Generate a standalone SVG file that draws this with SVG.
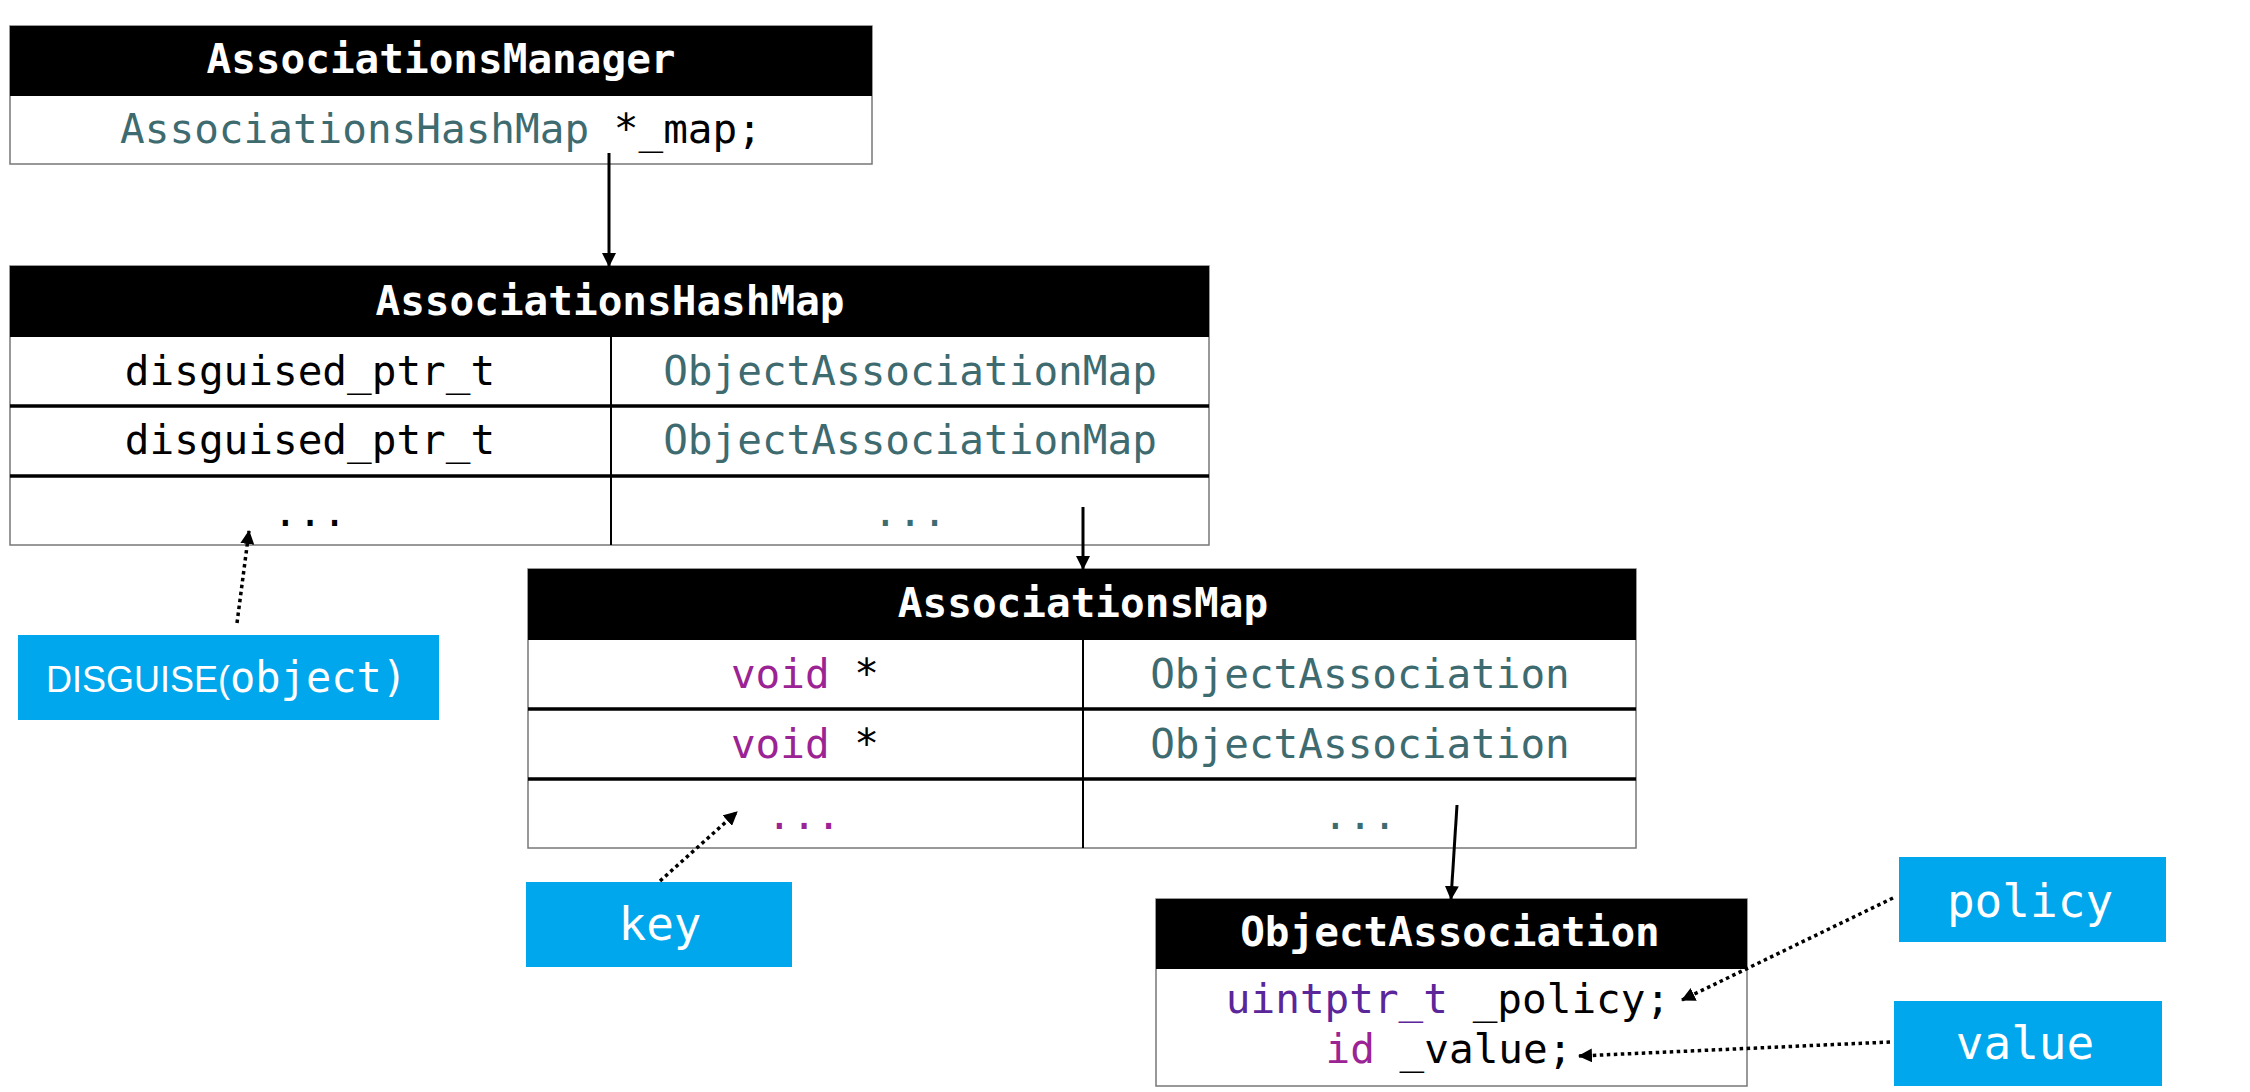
<svg xmlns="http://www.w3.org/2000/svg" width="2250" height="1092" viewBox="0 0 2250 1092">
<defs>
<style>
.frame{fill:#fff;stroke:#777;stroke-width:1.5}
.hdr{fill:#000}
.row{stroke:#000;stroke-width:3.5}
.div{stroke:#000;stroke-width:2}
.mono{font-family:"DejaVu Sans Mono","Liberation Mono",monospace;font-size:41px}
.ht{font-family:"DejaVu Sans Mono","Liberation Mono",monospace;font-size:41px;font-weight:bold;fill:#fff;text-anchor:middle}
.c{text-anchor:middle}
.blk{fill:#000}
.teal{fill:#3E6B70}
.mag{fill:#9B2393}
.pur{fill:#5B2699}
.blue{fill:#00A7EC}
.bt{font-family:"DejaVu Sans Mono","Liberation Mono",monospace;font-size:46px;fill:#fff;text-anchor:middle}
.solid{stroke:#000;stroke-width:3;fill:none}
.dot{stroke:#000;stroke-width:3.5;fill:none;stroke-dasharray:3.5 3.5}
</style>
<marker id="ah" viewBox="0 0 14 14" refX="13" refY="7" markerWidth="14" markerHeight="14" markerUnits="userSpaceOnUse" orient="auto">
<path d="M0,0 L14,7 L0,14 z" fill="#000"/>
</marker>
</defs>
<rect width="2250" height="1092" fill="#fff"/>

<g id="AssociationsManager">
<rect class="frame" x="10" y="26" width="862" height="138"/>
<rect class="hdr" x="10" y="26" width="862" height="70"/>
<text class="ht" x="441" y="73">AssociationsManager</text>
<text class="mono c" x="441" y="143"><tspan class="teal">AssociationsHashMap</tspan><tspan class="blk"> *_map;</tspan></text>
</g>

<g id="AssociationsHashMap">
<rect class="frame" x="10" y="266" width="1199" height="279"/>
<rect class="hdr" x="10" y="266" width="1199" height="71"/>
<line class="row" x1="10" y1="406" x2="1209" y2="406"/>
<line class="row" x1="10" y1="476" x2="1209" y2="476"/>
<line class="div" x1="611" y1="337" x2="611" y2="545"/>
<text class="ht" x="610" y="315">AssociationsHashMap</text>
<text class="mono c blk" x="310" y="385">disguised_ptr_t</text>
<text class="mono c teal" x="910" y="385">ObjectAssociationMap</text>
<text class="mono c blk" x="310" y="454">disguised_ptr_t</text>
<text class="mono c teal" x="910" y="454">ObjectAssociationMap</text>
<text class="mono c blk" x="310" y="526">...</text>
<text class="mono c teal" x="910" y="526">...</text>
</g>

<g id="AssociationsMap">
<rect class="frame" x="528" y="569" width="1108" height="279"/>
<rect class="hdr" x="528" y="569" width="1108" height="71"/>
<line class="row" x1="528" y1="709" x2="1636" y2="709"/>
<line class="row" x1="528" y1="779" x2="1636" y2="779"/>
<line class="div" x1="1083" y1="640" x2="1083" y2="848"/>
<text class="ht" x="1083" y="617">AssociationsMap</text>
<text class="mono c" x="805" y="688"><tspan class="mag">void</tspan><tspan class="blk"> *</tspan></text>
<text class="mono c teal" x="1360" y="688">ObjectAssociation</text>
<text class="mono c" x="805" y="758"><tspan class="mag">void</tspan><tspan class="blk"> *</tspan></text>
<text class="mono c teal" x="1360" y="758">ObjectAssociation</text>
<text class="mono c mag" x="804" y="829">...</text>
<text class="mono c teal" x="1360" y="829">...</text>
</g>

<g id="ObjectAssociation">
<rect class="frame" x="1156" y="899" width="591" height="187"/>
<rect class="hdr" x="1156" y="899" width="591" height="70"/>
<text class="ht" x="1450" y="946">ObjectAssociation</text>
<text class="mono c" x="1448" y="1013"><tspan class="pur">uintptr_t</tspan><tspan class="blk"> _policy;</tspan></text>
<text class="mono c" x="1449" y="1063"><tspan class="mag">id</tspan><tspan class="blk"> _value;</tspan></text>
</g>

<g id="DISGUISE">
<rect class="blue" x="18" y="635" width="421" height="85"/>
<text x="46" y="692" fill="#fff"><tspan font-family="'Liberation Sans','Noto Sans',sans-serif" font-size="36">DISGUISE(</tspan><tspan font-family="'DejaVu Sans Mono','Liberation Mono',monospace" font-size="42">object)</tspan></text>
</g>

<g id="key">
<rect class="blue" x="526" y="882" width="266" height="85"/>
<text class="bt" x="660" y="940">key</text>
</g>

<g id="policy">
<rect class="blue" x="1899" y="857" width="267" height="85"/>
<text class="bt" x="2030" y="917">policy</text>
</g>

<g id="value">
<rect class="blue" x="1894" y="1001" width="268" height="85"/>
<text class="bt" x="2025" y="1059">value</text>
</g>

<g id="connectors">
<line class="solid" x1="609" y1="153" x2="609" y2="266" marker-end="url(#ah)"/>
<line class="solid" x1="1083" y1="507" x2="1083" y2="569" marker-end="url(#ah)"/>
<line class="solid" x1="1457" y1="805" x2="1451" y2="899" marker-end="url(#ah)"/>
<line class="dot" x1="237" y1="623" x2="249" y2="531" marker-end="url(#ah)"/>
<line class="dot" x1="660" y1="881" x2="737" y2="812" marker-end="url(#ah)"/>
<line class="dot" x1="1893" y1="898" x2="1682" y2="1000" marker-end="url(#ah)"/>
<line class="dot" x1="1890" y1="1042" x2="1579" y2="1056" marker-end="url(#ah)"/>
</g>
</svg>
